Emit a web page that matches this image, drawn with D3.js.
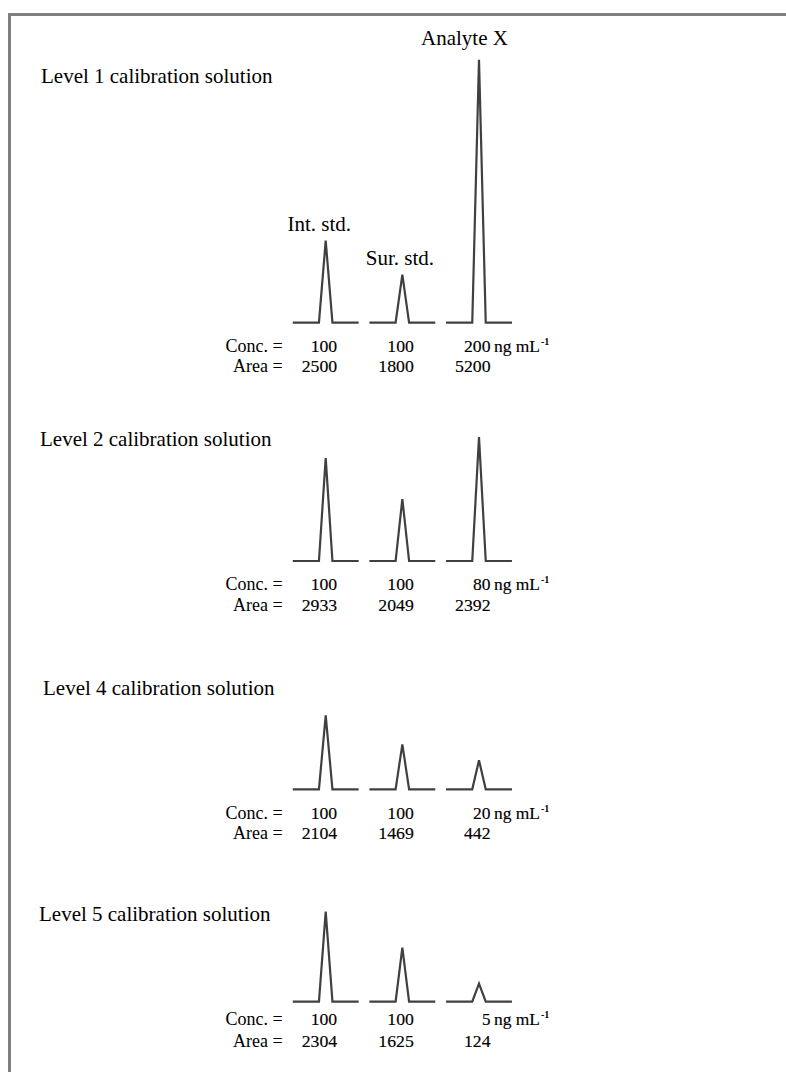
<!DOCTYPE html>
<html>
<head>
<meta charset="utf-8">
<script src="https://cdn.jsdelivr.net/npm/d3@7"></script>
<style>
  body { margin: 0; background: #fff; }
  svg { display: block; }
</style>
</head>
<body>
<div id="chart"></div>
<script>
// calibration levels shown, compounds, and values
const levels = ["Level 1", "Level 2", "Level 4", "Level 5"]
const compounds = ["Int. std.", "Sur. std.", "Analyte X"]
const retentionTimes = [2.0, 3.0, 4.0]            // min (relative)
const concentrations = [
    [100, 100, 200],
    [100, 100, 80],
    [100, 100, 20],
    [100, 100, 5]
]
const areas = [
    [2500, 1800, 5200],
    [2933, 2049, 2392],
    [2104, 1469, 442],
    [2304, 1625, 124]
]
const peakHeights = [
    [82, 48, 263],
    [103, 62, 124],
    [74, 45, 29],
    [90, 54, 18]
]
const concUnit = "ng mL"
const traceWindow = 0.43   // half width of each trace segment (min)
const peakHalfWidth = 0.088

const WIDTH = 786
const HEIGHT = 1072

// layout of each panel (pixel rows)
const titleX = [41, 40, 43, 39]
const titleY = [83, 446, 695, 921]
const baseY = [322.7, 561, 789.3, 1001.7]
const concY = [351.7, 590, 819, 1025]
const areaY = [371.7, 610.5, 839, 1046.5]

const svg = d3.select("#chart").append("svg")
    .attr("width", WIDTH)
    .attr("height", HEIGHT)

// frame
svg.append("path")
    .attr("d", "M9.5," + HEIGHT + " V14.5 H" + WIDTH)
    .attr("fill", "none")
    .attr("stroke", "#808080")
    .attr("stroke-width", 3)

const x = d3.scaleLinear()
    .domain([2, 4])
    .range([325.7, 479])

const h = d3.scaleLinear()
    .domain([0, 263])
    .range([0, 263])

const serif = "'Liberation Serif', 'Times New Roman', serif"
const DIGIT_W = 9

// numbers in the table use a wide serif face
function addNumber(g, xPos, yPos, value) {
    const s = String(value)
    g.append("text")
        .attr("x", xPos - s.length * DIGIT_W)
        .attr("y", yPos)
        .attr("textLength", s.length * DIGIT_W - 0.5)
        .attr("lengthAdjust", "spacingAndGlyphs")
        .style("font-family", serif)
        .style("font-size", "16px")
        .style("stroke", "#000")
        .style("stroke-width", 0.15)
        .text(s)
}

levels.forEach(function (level, li) {
    const g = svg.append("g").attr("class", "level")

    g.append("text")
        .attr("x", titleX[li])
        .attr("y", titleY[li])
        .style("font-family", serif)
        .style("font-size", "21px")
        .text(level + " calibration solution")

    const line = d3.line()
        .x(d => x(d[0]))
        .y(d => baseY[li] - h(d[1]))

    retentionTimes.forEach(function (t, ci) {
        const pts = [
            [t - traceWindow, 0],
            [t - peakHalfWidth, 0],
            [t, peakHeights[li][ci]],
            [t + peakHalfWidth, 0],
            [t + traceWindow, 0]
        ]
        g.append("path")
            .attr("d", line(pts))
            .attr("fill", "none")
            .attr("stroke", "#404040")
            .attr("stroke-width", 2.2)
            .attr("stroke-linejoin", "miter")

        const colX = x(t) + 12
        addNumber(g, colX, concY[li], concentrations[li][ci])
        addNumber(g, colX, areaY[li], areas[li][ci])

        if (ci === retentionTimes.length - 1) {
            g.append("text")
                .attr("x", colX + 3)
                .attr("y", concY[li])
                .attr("textLength", 46)
                .attr("lengthAdjust", "spacingAndGlyphs")
                .style("font-family", serif)
                .style("font-size", "16px")
                .style("stroke", "#000")
                .style("stroke-width", 0.15)
                .text(concUnit)
            g.append("text")
                .attr("x", colX + 50)
                .attr("y", concY[li] - 7)
                .style("font-family", serif)
                .style("font-size", "10px")
                .style("font-weight", "bold")
                .text("-1")
        }
    })

    g.append("text")
        .attr("x", 282.7)
        .attr("y", concY[li])
        .attr("text-anchor", "end")
        .style("font-family", serif)
        .style("font-size", "18px")
        .text("Conc. =")
    g.append("text")
        .attr("x", 282.7)
        .attr("y", areaY[li])
        .attr("text-anchor", "end")
        .style("font-family", serif)
        .style("font-size", "18px")
        .text("Area =")

    // compound names above the level 1 peaks
    if (li === 0) {
        const labelDx = [-6.5, -2.5, -14.5]
        const labelDy = [10, 9.5, 15]
        compounds.forEach(function (name, ci) {
            g.append("text")
                .attr("x", x(retentionTimes[ci]) + labelDx[ci])
                .attr("y", baseY[li] - h(peakHeights[li][ci]) - labelDy[ci])
                .attr("text-anchor", "middle")
                .style("font-family", serif)
                .style("font-size", "21px")
                .text(name)
        })
    }
})
</script>
</body>
</html>
